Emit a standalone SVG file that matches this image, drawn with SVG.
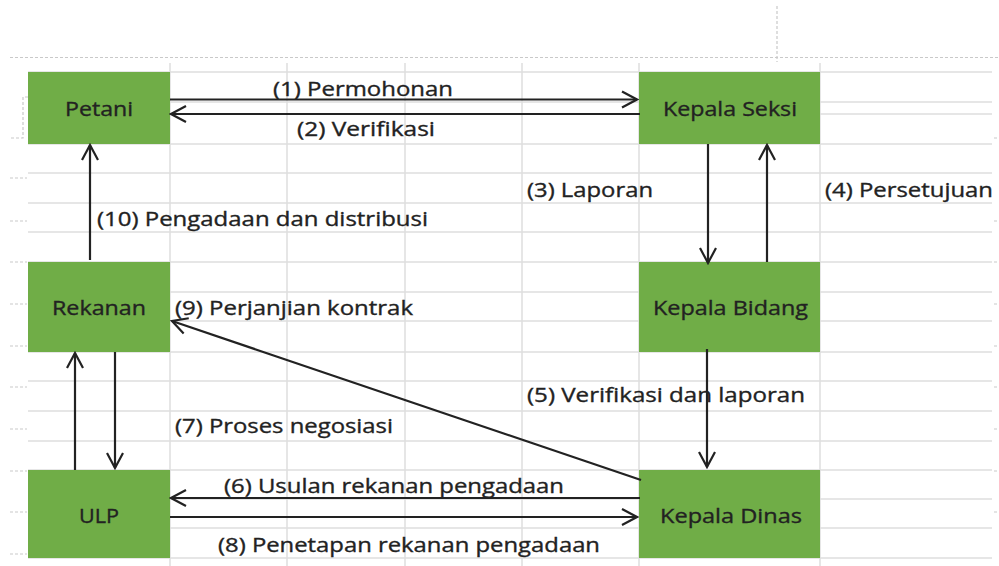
<svg xmlns="http://www.w3.org/2000/svg" width="999" height="566" viewBox="0 0 999 566">
<style>
.grid{stroke:#dedede;stroke-width:1.5;fill:none}
.dash{stroke:#c9c9c9;stroke-width:1.2;stroke-dasharray:3 2;fill:none}
.box{fill:#70AD47}
.t{font-family:"Open Sans","Noto Sans","Liberation Sans",sans-serif;font-size:20px;fill:#222222;stroke:#222222;stroke-width:0.35}
.c{stroke:#222222;stroke-width:2.2;fill:none}
</style>
<defs>
<marker id="ah" markerUnits="userSpaceOnUse" viewBox="-17 -10 19 20" refX="0" refY="0" markerWidth="19" markerHeight="20" orient="auto">
<path d="M-15,-8 L0,0 L-15,8" fill="none" stroke="#222222" stroke-width="2.2"/>
</marker>
</defs>
<rect width="999" height="566" fill="#ffffff"/>
<g id="sheet">
<path class="grid" d="M28,72H992M28,102H992M28,114H992M28,144H992M28,173H992M28,203H992M28,232H992M28,262H992M28,292H992M28,321H992M28,352H992M28,381H992M28,411H992M28,441H992M28,470H992M28,499H992M28,528H992M28,558H992"/>
<path class="grid" d="M170,63V566M287,63V566M405,63V566M522,63V566M639,63V566M820,63V566"/>
<path class="dash" d="M10,57.5H999M777,6V62M28,97H23V138H10"/>
<path class="dash" d="M10,178H27M10,221H27M10,262H27M10,304H27M10,346H27M10,387H27M10,429H27M10,471H27M10,512H27M10,554H27"/>
<path class="dash" d="M994,138H999M994,221H999M994,262H999M994,304H999M994,346H999M994,387H999M994,429H999M994,471H999M994,512H999"/>
</g>
<g id="node-petani"><rect class="box" x="28" y="72" width="142" height="72"/><text class="t" x="65" y="116" textLength="68" lengthAdjust="spacingAndGlyphs">Petani</text></g>
<g id="node-kepala-seksi"><rect class="box" x="639" y="72" width="181" height="72"/><text class="t" x="663" y="116" textLength="134" lengthAdjust="spacingAndGlyphs">Kepala Seksi</text></g>
<g id="node-rekanan"><rect class="box" x="28" y="262" width="142" height="90"/><text class="t" x="52" y="315" textLength="94" lengthAdjust="spacingAndGlyphs">Rekanan</text></g>
<g id="node-kepala-bidang"><rect class="box" x="639" y="262" width="181" height="90"/><text class="t" x="653" y="315" textLength="155" lengthAdjust="spacingAndGlyphs">Kepala Bidang</text></g>
<g id="node-ulp"><rect class="box" x="28" y="470" width="142" height="88"/><text class="t" x="79" y="523" textLength="40" lengthAdjust="spacingAndGlyphs">ULP</text></g>
<g id="node-kepala-dinas"><rect class="box" x="639" y="470" width="181" height="88"/><text class="t" x="660" y="523" textLength="142" lengthAdjust="spacingAndGlyphs">Kepala Dinas</text></g>
<g id="connectors">
<path class="c" d="M170,99.5H637" marker-end="url(#ah)"/>
<path class="c" d="M640,114H171" marker-end="url(#ah)"/>
<path class="c" d="M708,144V263" marker-end="url(#ah)"/>
<path class="c" d="M767,262V145" marker-end="url(#ah)"/>
<path class="c" d="M90,260V145" marker-end="url(#ah)"/>
<path class="c" d="M707,349V467" marker-end="url(#ah)"/>
<path class="c" d="M641,480L172,321" marker-end="url(#ah)"/>
<path class="c" d="M75,470V353" marker-end="url(#ah)"/>
<path class="c" d="M115,352V468" marker-end="url(#ah)"/>
<path class="c" d="M640,498H171" marker-end="url(#ah)"/>
<path class="c" d="M170,517H637" marker-end="url(#ah)"/>
</g>
<g id="labels">
<text class="t" x="273" y="96" textLength="180" lengthAdjust="spacingAndGlyphs">(1) Permohonan</text>
<text class="t" x="297" y="136" textLength="138" lengthAdjust="spacingAndGlyphs">(2) Verifikasi</text>
<text class="t" x="527" y="197" textLength="126" lengthAdjust="spacingAndGlyphs">(3) Laporan</text>
<text class="t" x="825" y="197" textLength="168" lengthAdjust="spacingAndGlyphs">(4) Persetujuan</text>
<text class="t" x="97" y="226" textLength="331" lengthAdjust="spacingAndGlyphs">(10) Pengadaan dan distribusi</text>
<text class="t" x="175" y="315" textLength="238" lengthAdjust="spacingAndGlyphs">(9) Perjanjian kontrak</text>
<text class="t" x="527" y="402" textLength="278" lengthAdjust="spacingAndGlyphs">(5) Verifikasi dan laporan</text>
<text class="t" x="175" y="433" textLength="218" lengthAdjust="spacingAndGlyphs">(7) Proses negosiasi</text>
<text class="t" x="224" y="493" textLength="340" lengthAdjust="spacingAndGlyphs">(6) Usulan rekanan pengadaan</text>
<text class="t" x="218" y="552" textLength="382" lengthAdjust="spacingAndGlyphs">(8) Penetapan rekanan pengadaan</text>
</g>
</svg>
